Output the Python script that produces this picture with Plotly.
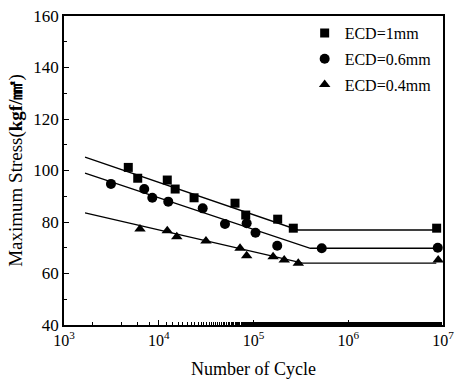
import plotly.graph_objects as go

# Data
sq_n = [4770, 6000, 12300, 14900, 23600, 63800, 82800, 180000, 263000, 8.57e6]
sq_s = [101.2, 97.0, 96.3, 92.8, 89.4, 87.3, 82.7, 81.1, 77.6, 77.6]

ci_n = [3130, 7030, 8550, 12600, 29100, 50000, 84700, 105000, 178000, 525000, 8.8e6]
ci_s = [94.8, 92.8, 89.4, 87.9, 85.3, 79.2, 79.5, 75.8, 70.8, 69.8, 70.0]

tr_n = [6340, 12300, 15500, 31500, 72100, 84700, 161000, 211000, 297000, 8.9e6]
tr_s = [77.3, 76.6, 74.3, 72.6, 69.8, 66.9, 66.5, 65.2, 64.0, 65.2]

# Fitted (bilinear) lines
fit1_n = [1667, 295000, 8.5e6]
fit1_s = [105.2, 76.9, 76.9]
fit2_n = [1667, 398000, 8.5e6]
fit2_s = [99.0, 69.8, 69.8]
fit3_n = [1667, 331000, 8.5e6]
fit3_s = [83.5, 64.0, 64.0]

labels = ["ECD=1mm", "ECD=0.6mm", "ECD=0.4mm"]
x_ticks = [1e3, 1e4, 1e5, 1e6, 1e7]
x_ticktext = ["10<sup>3</sup>", "10<sup>4</sup>", "10<sup>5</sup>", "10<sup>6</sup>", "10<sup>7</sup>"]
y_ticks = [40, 60, 80, 100, 120, 140, 160]

fig = go.Figure()
for fx, fy in [(fit1_n, fit1_s), (fit2_n, fit2_s), (fit3_n, fit3_s)]:
    fig.add_trace(go.Scatter(x=fx, y=fy, mode="lines", line=dict(color="black", width=1.3),
                             showlegend=False, hoverinfo="skip"))

fig.add_trace(go.Scatter(x=sq_n, y=sq_s, mode="markers", name=labels[0], legendgroup="a",
                         marker=dict(symbol="square", size=9, color="black")))
fig.add_trace(go.Scatter(x=ci_n, y=ci_s, mode="markers", name=labels[1], legendgroup="b",
                         marker=dict(symbol="circle", size=10, color="black")))
fig.add_trace(go.Scatter(x=tr_n, y=tr_s, mode="markers", name=labels[2], legendgroup="c",
                         marker=dict(symbol="triangle-up", size=10, color="black")))

font_family = "Liberation Serif, DejaVu Serif, serif"
fig.update_layout(
    width=455, height=380,
    margin=dict(l=64, r=12, t=16, b=55, autoexpand=False),
    plot_bgcolor="white", paper_bgcolor="white",
    font=dict(family=font_family, color="black", size=15),
    showlegend=True,
    legend=dict(x=0.635, y=1.0, xanchor="left", yanchor="top",
                bgcolor="rgba(0,0,0,0)", font=dict(size=16, family=font_family),
                itemwidth=30, tracegroupgap=2),
    xaxis=dict(type="log", range=[3, 7], tickvals=x_ticks, ticktext=x_ticktext,
               ticks="inside", ticklen=5, tickwidth=1, tickcolor="black",
               showline=True, linecolor="black", linewidth=1.5, mirror=True,
               showgrid=False, zeroline=False, automargin=False,
               tickfont=dict(size=16, family=font_family),
               minor=dict(ticks="inside", ticklen=3, tickcolor="black", showgrid=False),
               title=dict(text="Number of Cycle", font=dict(size=18, family=font_family), standoff=14)),
    yaxis=dict(range=[40, 160], tickvals=y_ticks,
               ticks="inside", ticklen=5, tickwidth=1, tickcolor="black",
               showline=True, linecolor="black", linewidth=1.5, mirror=True,
               showgrid=False, zeroline=False, automargin=False,
               tickfont=dict(size=17, family=font_family),
               minor=dict(ticks="inside", ticklen=3, dtick=10, tickcolor="black", showgrid=False),
               title=dict(text="Maximum Stress(<b>kgf/㎟</b>)", font=dict(size=19, family=font_family), standoff=6)),
)

fig.write_html("out.html")
